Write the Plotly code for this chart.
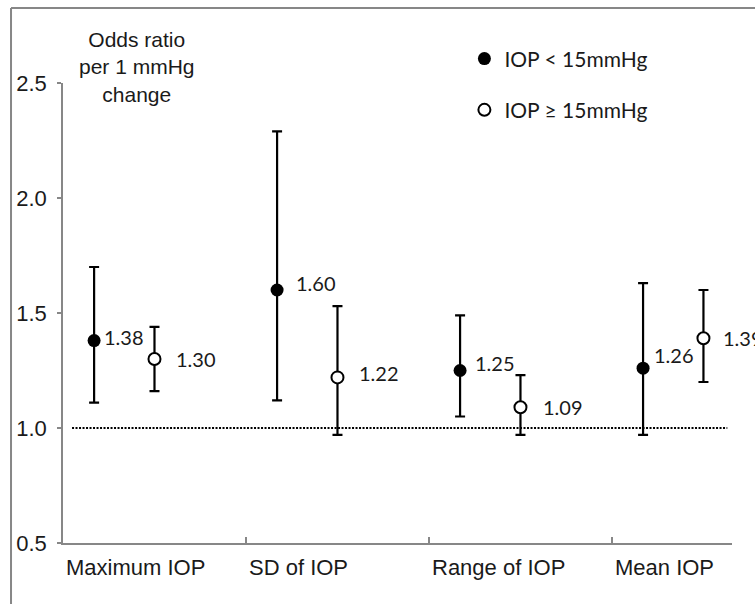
import plotly.graph_objects as go

# ---- data ----
categories = ["Maximum IOP", "SD of IOP", "Range of IOP", "Mean IOP"]
low_or = [1.38, 1.60, 1.25, 1.26]
low_ci_lo = [1.11, 1.12, 1.05, 0.97]
low_ci_hi = [1.70, 2.29, 1.49, 1.63]
high_or = [1.30, 1.22, 1.09, 1.39]
high_ci_lo = [1.16, 0.97, 0.97, 1.20]
high_ci_hi = [1.44, 1.53, 1.23, 1.60]
y_ticks = [0.5, 1.0, 1.5, 2.0, 2.5]
series_names = ["IOP < 15mmHg", "IOP \u2265 15mmHg"]
reference_or = 1.0
y_title = "Odds ratio<br>per 1 mmHg<br>change"

# ---- style / layout helpers ----
OFF_LOW, OFF_HIGH = 0.17, 0.50
x_low = [i + OFF_LOW for i in range(len(categories))]
x_high = [i + OFF_HIGH for i in range(len(categories))]
low_shift = [(8, 4), (17, 7), (13, 8), (9, 13)]
high_shift = [(20, 0), (20, 4), (21, 0), (18, 0)]
GREY = "#878787"
LABEL_FONT = dict(family="Lato, Carlito, sans-serif", size=20, color="#1a1a1a")
AX_FONT = dict(family="Liberation Sans, Arial, sans-serif", size=22, color="#1a1a1a")

fig = go.Figure()
fig.add_trace(go.Scatter(
    x=x_low, y=low_or, mode="markers", name=series_names[0], legendgroup="a",
    marker=dict(symbol="circle", size=13, color="black", line=dict(width=0)),
    error_y=dict(type="data", symmetric=False,
                 array=[h - o for h, o in zip(low_ci_hi, low_or)],
                 arrayminus=[o - l for o, l in zip(low_or, low_ci_lo)],
                 color="black", thickness=2.2, width=5),
))
fig.add_trace(go.Scatter(
    x=x_high, y=high_or, mode="markers", name=series_names[1], legendgroup="b",
    marker=dict(symbol="circle", size=12, color="white", line=dict(width=2, color="black")),
    error_y=dict(type="data", symmetric=False,
                 array=[h - o for h, o in zip(high_ci_hi, high_or)],
                 arrayminus=[o - l for o, l in zip(high_or, high_ci_lo)],
                 color="black", thickness=2.2, width=5),
))

annotations = []
for xs, vals, shifts in ((x_low, low_or, low_shift), (x_high, high_or, high_shift)):
    for x, v, (dx, dy) in zip(xs, vals, shifts):
        annotations.append(dict(x=x, y=v, xref="x", yref="y", text=f"{v:.2f}",
                                showarrow=False, xanchor="left", yanchor="middle",
                                xshift=dx, yshift=dy, font=LABEL_FONT))
for i, c in enumerate(categories):
    annotations.append(dict(x=i, y=0, xref="x", yref="paper", text=c, showarrow=False,
                            xanchor="left", yanchor="middle", xshift=1, yshift=-24,
                            font=AX_FONT))
annotations.append(dict(x=0.404, y=1.035, xref="x", yref="paper", text=y_title,
                        showarrow=False, xanchor="center", yanchor="middle",
                        align="center", font=dict(family="Liberation Sans, Arial, sans-serif",
                                                  size=21, color="#1a1a1a")))

shapes = [
    # reference line at OR = 1
    dict(type="line", xref="paper", yref="y", x0=0.0135, x1=0.993,
         y0=reference_or, y1=reference_or,
         line=dict(color="black", width=2, dash="2px,1.5px")),
    # outer frame (cropped at right and bottom)
    dict(type="line", xref="paper", yref="paper", x0=-0.0777, x1=1.1, y0=1.163, y1=1.163,
         line=dict(color=GREY, width=2)),
    dict(type="line", xref="paper", yref="paper", x0=-0.0777, x1=-0.0777, y0=1.163, y1=-0.2,
         line=dict(color=GREY, width=2)),
]

fig.update_layout(
    width=755, height=604,
    margin=dict(l=63, r=23, t=83, b=61),
    paper_bgcolor="white", plot_bgcolor="white",
    showlegend=True,
    legend=dict(x=0.60, y=1.097, xanchor="left", yanchor="top",
                font=dict(family="Lato, Carlito, sans-serif", size=21, color="#1a1a1a"),
                tracegroupgap=21, traceorder="grouped", bgcolor="rgba(0,0,0,0)"),
    xaxis=dict(range=[0, 3.656], showgrid=False, zeroline=False, showline=True,
               linecolor=GREY, linewidth=1.5, ticks="inside", tickvals=[1, 2, 3],
               ticklen=6, tickcolor=GREY, tickwidth=1.5, showticklabels=False),
    yaxis=dict(range=[0.5, 2.5], tickvals=y_ticks, tickformat=".1f", showgrid=False,
               zeroline=False, showline=True, linecolor=GREY, linewidth=1.5,
               ticks="outside", ticklen=4, tickcolor=GREY, tickwidth=1.5,
               tickfont=AX_FONT, ticklabelstandoff=6),
    annotations=annotations,
    shapes=shapes,
)

fig.write_html("out.html")
